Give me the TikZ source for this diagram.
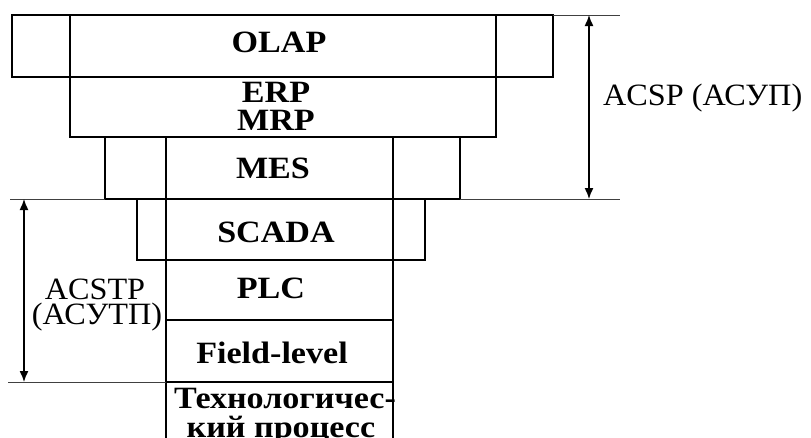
\documentclass[tikz,border=0pt]{standalone}
\usepackage{fontspec}
\setmainfont{Liberation Serif}
\newfontfamily\widefont[FakeStretch=1.1]{Liberation Serif}
\newfontfamily\sidefont[FakeStretch=1.04]{Liberation Serif}
\usetikzlibrary{arrows.meta}
\begin{document}
\begin{tikzpicture}[x=1pt,y=-1pt,
  thick line/.style={line width=2.6pt},
  thin line/.style={line width=0.9pt, black!75},
  dim arrow/.style={line width=1.4pt, {Latex[length=11pt,width=9pt]}-{Latex[length=11pt,width=9pt]}},
  lbl/.style={font=\widefont\fontsize{31}{28}\selectfont\bfseries, inner sep=0pt, anchor=base},
  side/.style={font=\sidefont\fontsize{31}{23}\selectfont, inner sep=0pt, align=center}]
\useasboundingbox (0,0) rectangle (811,437);
\clip (0,0) rectangle (811,437);
% boxes
\draw[thick line] (12,15) rectangle (553,77);
\draw[thick line] (70,15) -- (70,77) (496,15) -- (496,77);
\draw[thick line] (70,77) rectangle (496,137);
\draw[thick line] (105,137) rectangle (460,199);
\draw[thick line] (137,199) rectangle (425,260);
\draw[thick line] (166,137) -- (166,445) (393,137) -- (393,445);
\draw[thick line] (166,260) -- (393,260);
\draw[thick line] (166,320) -- (393,320);
\draw[thick line] (166,382) -- (393,382);
% labels
\node[lbl] (olap) at (279,52) {OLAP};
\node[font=\widefont\fontsize{31}{28}\selectfont\bfseries, inner sep=0pt, align=center] (erp) at (276,106) {ERP\\MRP};
\node[lbl] (mes) at (273,178) {MES};
\node[lbl] (scada) at (276,242) {SCADA};
\node[lbl] (plc) at (271,298) {PLC};
\node[lbl] (field) at (272,363) {Field-level};
\node[lbl] (tech1) at (285,408) {Технологичес-};
\node[lbl] (tech2) at (281,437) {кий процесс};
% dimension lines
\coordinate (t1) at (553,15);
\coordinate (t1e) at (620,15);
\coordinate (b1) at (460,199);
\coordinate (b1e) at (620,199);
\draw[thin line] (t1) -- (t1e);
\draw[thin line] (b1) -- (b1e);
\coordinate (a1t) at (589,15);
\coordinate (a1b) at (589,199);
\draw[dim arrow] (a1t) -- (a1b);
\node[side, anchor=base west] (acsp) at (603,105) {ACSP (АСУП)};
\coordinate (t2) at (10,199);
\coordinate (t2e) at (105,199);
\coordinate (b2) at (8,382);
\coordinate (b2e) at (166,382);
\draw[thin line] (t2) -- (t2e);
\draw[thin line] (b2) -- (b2e);
\coordinate (a2t) at (24,199);
\coordinate (a2b) at (24,382);
\draw[dim arrow] (a2t) -- (a2b);
\node[side, anchor=base] (acstp1) at (95,299) {ACSTP};
\node[side, anchor=base] (acstp2) at (97,324) {(АСУТП)};
\end{tikzpicture}
\end{document}
